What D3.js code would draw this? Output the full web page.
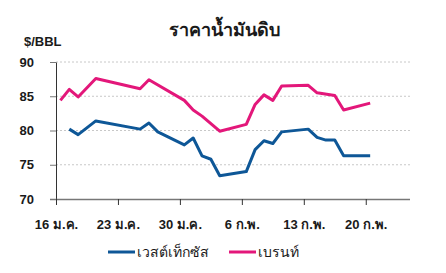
<!DOCTYPE html>
<html>
<head>
<meta charset="utf-8">
<script src="https://cdn.jsdelivr.net/npm/d3@7"></script>
<style>
  body { margin: 0; background: #fff; }
  text { font-family: "Liberation Sans", Arial, sans-serif; fill: #1a1a1a; }
  .tick text { font-size: 13px; font-weight: bold; }
</style>
</head>
<body>
<div id="chart"></div>
<script>
/* Crude oil price chart */
const width = 446, height = 273,
    margin = ({ top: 62, right: 36, bottom: 74, left: 56 });

// trading dates, day-of-series (points sit mid-day)
const brentDates = ["2017-01-16","2017-01-17","2017-01-18","2017-01-20","2017-01-25","2017-01-26",
    "2017-01-30","2017-01-31","2017-02-01","2017-02-03","2017-02-06","2017-02-07","2017-02-08",
    "2017-02-09","2017-02-10","2017-02-13","2017-02-14","2017-02-16","2017-02-17","2017-02-20"];
const brent = [84.4, 86.0, 84.9, 87.6, 86.1, 87.4,
    84.4, 83.0, 82.1, 79.9, 80.9, 83.8, 85.2,
    84.4, 86.5, 86.6, 85.5, 85.1, 83.0, 84.0];

const wtiDates = ["2017-01-17","2017-01-18","2017-01-20","2017-01-25","2017-01-26","2017-01-27",
    "2017-01-30","2017-01-31","2017-02-01","2017-02-02","2017-02-03","2017-02-06","2017-02-07",
    "2017-02-08","2017-02-09","2017-02-10","2017-02-13","2017-02-14","2017-02-15","2017-02-16",
    "2017-02-17","2017-02-20"];
const wti = [80.2, 79.4, 81.4, 80.2, 81.1, 79.8,
    77.9, 78.9, 76.3, 75.8, 73.4, 74.0, 77.2,
    78.5, 78.1, 79.8, 80.2, 79.0, 78.6, 78.6,
    76.3, 76.3];

const tickDates = ["2017-01-16","2017-01-23","2017-01-30","2017-02-06","2017-02-13","2017-02-20"];
const tickLabels = ["16 ม.ค.", "23 ม.ค.", "30 ม.ค.", "6 ก.พ.", "13 ก.พ.", "20 ก.พ."];
const yTicks = [70, 75, 80, 85, 90];

const parse = d3.timeParse("%Y-%m-%d");
const halfDay = 12 * 3600 * 1000;

const svg = d3.select("#chart")
    .append("svg")
    .attr("width", width)
    .attr("height", height);

let x = d3.scaleTime()
    .domain([parse("2017-01-16"), parse("2017-02-25")])
    .range([margin.left, width - margin.right]);

let y = d3.scaleLinear()
    .domain([70, 90])
    .range([height - margin.bottom, margin.top]);

// dotted grid
svg.append("g")
    .selectAll("line")
    .data(yTicks.slice(1))
    .join("line")
    .attr("x1", margin.left)
    .attr("x2", width - margin.right)
    .attr("y1", d => y(d))
    .attr("y2", d => y(d))
    .attr("stroke", "#c8c8c8")
    .attr("stroke-dasharray", "2,2");

// y axis
svg.append("g")
    .attr("transform", `translate(${margin.left},0)`)
    .call(d3.axisLeft(y).tickValues(yTicks).tickSize(6).tickPadding(16).tickSizeOuter(0))
    .call(g => g.select(".domain").attr("stroke", "#333"))
    .call(g => g.selectAll(".tick line").attr("stroke", "#777"));

// x axis
svg.append("g")
    .attr("transform", `translate(0,${height - margin.bottom})`)
    .call(d3.axisBottom(x)
        .tickValues(tickDates.map(parse))
        .tickFormat((d, i) => tickLabels[i])
        .tickSize(6).tickPadding(15).tickSizeOuter(0))
    .call(g => g.select(".domain").attr("d", `M${margin.left - 6},0.5H${width - margin.right}`)
        .attr("stroke", "#777").attr("stroke-width", 1.5))
    .call(g => g.selectAll(".tick line").attr("stroke", "#333"));

let line = d3.line()
    .x(d => x(new Date(d[0].getTime() + halfDay)))
    .y(d => y(d[1]));

const series = [
    { name: "เวสต์เท็กซัส", color: "#0e5797", dates: wtiDates, values: wti },
    { name: "เบรนท์", color: "#e3177a", dates: brentDates, values: brent }
];

for (let s of series) {
    svg.append("path")
        .datum(s.dates.map((d, i) => [parse(d), s.values[i]]))
        .attr("d", line)
        .attr("fill", "none")
        .attr("stroke", s.color)
        .attr("stroke-width", 3)
        .attr("stroke-linejoin", "round");
}

// title and unit
svg.append("text")
    .attr("x", 224)
    .attr("y", 36)
    .attr("text-anchor", "middle")
    .style("font-size", "18px")
    .style("font-weight", "bold")
    .text("ราคาน้ำมันดิบ");

svg.append("text")
    .attr("x", 24)
    .attr("y", 46)
    .style("font-size", "13px")
    .style("font-weight", "bold")
    .text("$/BBL");

// legend
const legendX = [108, 229];
const legend = svg.append("g");
series.forEach((s, i) => {
    legend.append("line")
        .attr("x1", legendX[i]).attr("x2", legendX[i] + 27)
        .attr("y1", 252).attr("y2", 252)
        .attr("stroke", s.color).attr("stroke-width", 3);
    legend.append("text")
        .attr("x", legendX[i] + 29)
        .attr("y", 257)
        .style("font-size", "14px")
        .text(s.name);
});
</script>
</body>
</html>
